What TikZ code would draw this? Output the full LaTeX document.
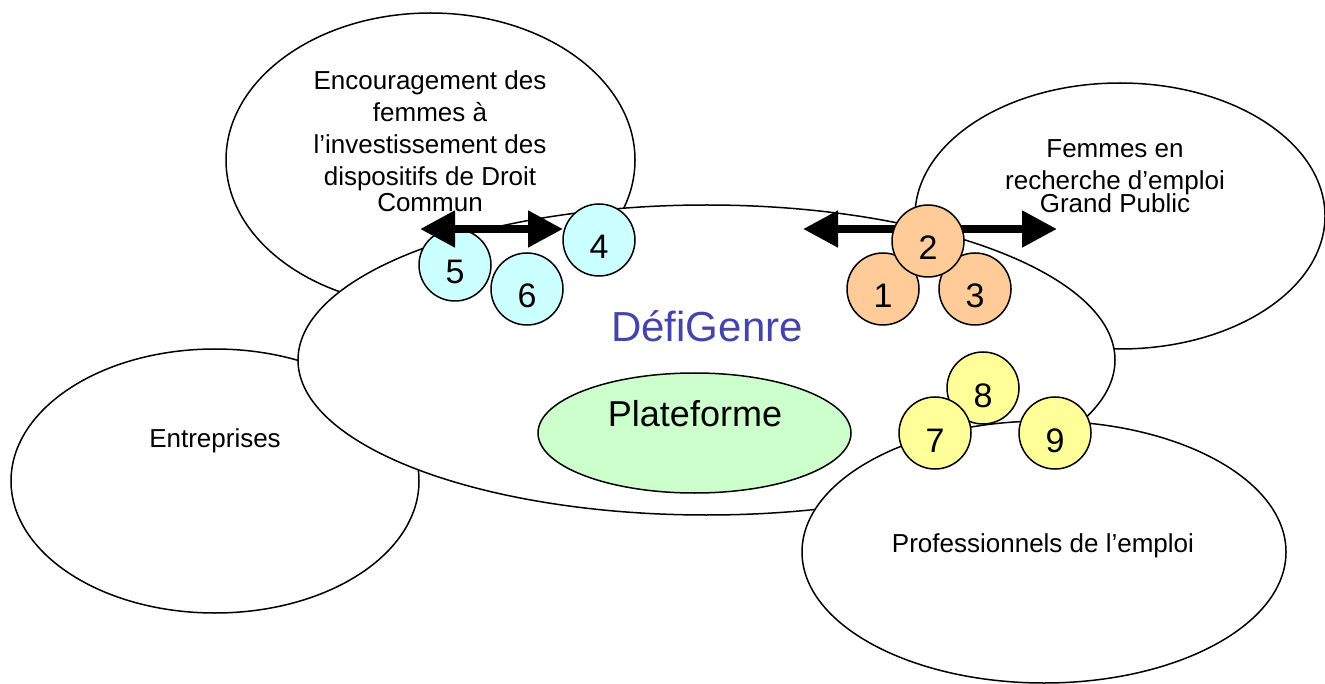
\documentclass[tikz,border=0pt]{standalone}
\usepackage{fontspec}
\setmainfont{Liberation Sans}
\usetikzlibrary{shapes.geometric,arrows.meta}
\definecolor{cyanfill}{HTML}{CCFFFF}
\definecolor{orangefill}{HTML}{FFCC99}
\definecolor{yellowfill}{HTML}{FFFF99}
\definecolor{greenfill}{HTML}{CCFFCC}
\definecolor{defiblue}{HTML}{4444AA}
\begin{document}
\begin{tikzpicture}[x=1pt,y=-1pt,
  blob/.style={ellipse,draw,fill=white,line width=1.5pt,inner sep=0pt},
  num/.style={circle,draw,line width=1.5pt,minimum size=72pt,inner sep=0pt,
    text height=38pt,text depth=0pt,font=\fontsize{34}{40}\selectfont},
  lbl/.style={font=\fontsize{26}{32}\selectfont,align=center,inner sep=0pt},
  bigarrow/.style={line width=8pt,
    {Triangle[length=35pt,width=35pt]}-{Triangle[length=35pt,width=35pt]}}
]
\useasboundingbox (0,0) rectangle (1325,684);

% outer ellipses (under the main one)
\node[blob,minimum width=409pt,minimum height=294pt] (tl) at (430.5,160) {};
\node[lbl,anchor=north] (tltext) at (430,70)
  {Encouragement des\\femmes à\\l’investissement des\\dispositifs de Droit\\[-6pt]Commun};
\node[blob,minimum width=410pt,minimum height=266pt] (tr) at (1120,216) {};
\node[lbl,anchor=north] (trtext) at (1115,139)
  {Femmes en\\recherche d’emploi\\[-9pt]Grand Public};
\node[blob,minimum width=408pt,minimum height=264pt] (en) at (215,481) {};
\node[lbl,anchor=base] (entext) at (215,447) {Entreprises};

% main ellipse
\node[blob,minimum width=817pt,minimum height=310pt] (dg) at (706.5,360) {};
\node[inner sep=0pt,anchor=base,text=defiblue,font=\fontsize{42}{48}\selectfont]
  (dgtext) at (707,342) {DéfiGenre};

% professionals ellipse (over the main one)
\node[blob,minimum width=484pt,minimum height=262pt] (pr) at (1044,552) {};
\node[lbl,anchor=base] (prtext) at (1043,552) {Professionnels de l’emploi};

% platform
\node[blob,fill=greenfill,minimum width=313pt,minimum height=120pt] (pl) at (694.5,433) {};
\node[inner sep=0pt,anchor=base,font=\fontsize{36}{42}\selectfont]
  (pltext) at (695,426) {Plateforme};

% cyan group
\node[num,fill=cyanfill] (c5) at (455,265) {5};
\node[num,fill=cyanfill] (c6) at (527,289) {6};
\coordinate (al1) at (420,229);
\coordinate (al2) at (563,229);
\draw[bigarrow] (al1) -- (al2);
\node[num,fill=cyanfill] (c4) at (599,240) {4};

% orange group
\coordinate (ar1) at (803,229);
\coordinate (ar2) at (1057,229);
\draw[bigarrow] (ar1) -- (ar2);
\node[num,fill=orangefill] (c1) at (883,289) {1};
\node[num,fill=orangefill] (c3) at (975,289) {3};
\node[num,fill=orangefill] (c2) at (928,241) {2};

% yellow group
\node[num,fill=yellowfill] (c8) at (983,388) {8};
\node[num,fill=yellowfill] (c9) at (1055,433) {9};
\node[num,fill=yellowfill] (c7) at (935,433) {7};
\end{tikzpicture}
\end{document}
